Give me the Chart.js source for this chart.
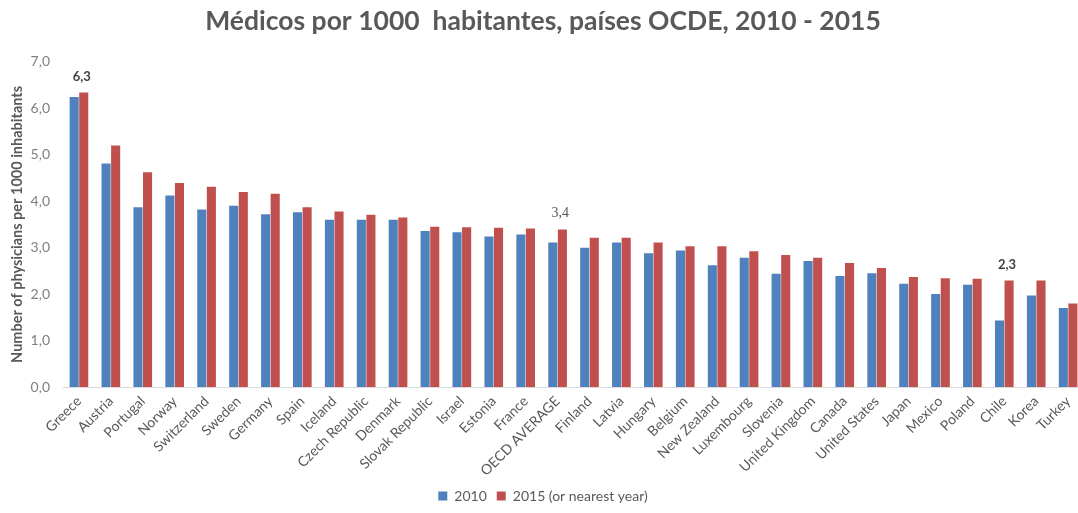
<!DOCTYPE html>
<html>
<head>
<meta charset="utf-8">
<script src="https://cdn.jsdelivr.net/npm/chart.js@4.4.1/dist/chart.umd.min.js"></script>
<style>
    html, body { margin: 0; padding: 0; background: #ffffff; overflow: hidden; }
    #wrap { width: 1078px; height: 513px; overflow: hidden; }
</style>
</head>
<body>
<!-- el lienzo es un poco más ancho: la última barra queda cortada como en el original -->
<div id="wrap"><canvas id="physicians-chart" width="1086" height="513"></canvas></div>
<script>
// países (orden del gráfico original)
const categories = ['Greece', 'Austria', 'Portugal', 'Norway', 'Switzerland', 'Sweden', 'Germany', 'Spain',
    'Iceland', 'Czech Republic', 'Denmark', 'Slovak Republic', 'Israel', 'Estonia', 'France', 'OECD AVERAGE',
    'Finland', 'Latvia', 'Hungary', 'Belgium', 'New Zealand', 'Luxembourg', 'Slovenia', 'United Kingdom',
    'Canada', 'United States', 'Japan', 'Mexico', 'Poland', 'Chile', 'Korea', 'Turkey'];

// médicos por 1000 habitantes, 2010
const values2010 = [6.24, 4.81, 3.87, 4.12, 3.82, 3.90, 3.72, 3.76,
    3.60, 3.60, 3.60, 3.36, 3.33, 3.24, 3.28, 3.11,
    3.00, 3.11, 2.88, 2.94, 2.62, 2.78, 2.44, 2.71,
    2.39, 2.45, 2.22, 2.00, 2.20, 1.43, 1.97, 1.70];

// médicos por 1000 habitantes, 2015 (o año más cercano)
const values2015 = [6.34, 5.20, 4.62, 4.39, 4.31, 4.20, 4.16, 3.87,
    3.78, 3.71, 3.65, 3.45, 3.44, 3.43, 3.41, 3.39,
    3.21, 3.21, 3.11, 3.03, 3.03, 2.92, 2.84, 2.78,
    2.67, 2.56, 2.37, 2.34, 2.33, 2.29, 2.29, 1.80];

const yTicks = [0, 1, 2, 3, 4, 5, 6, 7];

// barras con etiqueta de valor (Greece, OECD AVERAGE, Chile)
const labelledBars = [0, 15, 29];
const boldLabels = [true, false, true];

const fmt = (v) => v.toFixed(1).replace('.', ',');

// dibuja las etiquetas encima de las barras rojas
const barLabels = {
    id: 'barLabels',
    afterDatasetsDraw(chart) {
        const ctx = chart.ctx;
        const meta = chart.getDatasetMeta(1);
        labelledBars.forEach((idx, k) => {
            const bar = meta.data[idx];
            ctx.save();
            ctx.font = boldLabels[k] ? 'bold 13px Lato' : '14px "Liberation Serif"';
            ctx.fillStyle = boldLabels[k] ? '#404040' : '#595959';
            ctx.textAlign = 'center';
            ctx.textBaseline = 'bottom';
            ctx.fillText(fmt(values2015[idx]), bar.x - 2, bar.y - 9);
            ctx.restore();
        });
    }
};

const canvas = document.getElementById('physicians-chart');

new Chart(canvas, {
    type: 'bar',
    data: {
        labels: categories,
        datasets: [{
            label: '2010',
            data: values2010,
            backgroundColor: '#4F81BD',
            categoryPercentage: 0.6,
            barPercentage: 0.95
        }, {
            label: '2015 (or nearest year)',
            data: values2015,
            backgroundColor: '#C0504D',
            categoryPercentage: 0.6,
            barPercentage: 0.95
        }]
    },
    options: {
        responsive: false,
        animation: false,
        plugins: {
            title: {
                display: true,
                text: 'Médicos por 1000  habitantes, países OCDE, 2010 - 2015',
                color: '#595959',
                font: {family: 'Lato', size: 26.5, weight: 'bold'},
                padding: {top: 6, bottom: 24}
            },
            legend: {
                position: 'bottom',
                labels: {
                    color: '#595959',
                    font: {family: 'Lato', size: 14},
                    boxWidth: 9,
                    boxHeight: 9,
                    padding: 10
                }
            },
            tooltip: {enabled: false}
        },
        scales: {
            x: {
                grid: {display: false, drawTicks: false},
                border: {display: true, color: '#d9d9d9', width: 1},
                ticks: {
                    color: '#595959',
                    font: {family: 'Lato', size: 14},
                    minRotation: 45,
                    maxRotation: 45,
                    autoSkip: false,
                    padding: 6
                },
                afterFit(scale) {
                    scale.height = 92;
                }
            },
            y: {
                min: 0,
                max: 7,
                afterBuildTicks(scale) {
                    scale.ticks = yTicks.map(v => ({value: v}));
                },
                grid: {display: false, drawTicks: false},
                border: {display: false},
                ticks: {
                    color: '#7f7f7f',
                    font: {family: 'Lato', size: 14},
                    padding: 13,
                    callback: (v) => fmt(v)
                },
                title: {
                    display: true,
                    text: 'Number of physicians per 1000 inhabitants',
                    color: '#595959',
                    font: {family: 'Lato', size: 14.5, weight: 'bold'},
                    padding: {top: 9, bottom: 0}
                },
                afterFit(scale) {
                    scale.width = 63;
                }
            }
        }
    },
    plugins: [barLabels]
});
</script>
</body>
</html>
